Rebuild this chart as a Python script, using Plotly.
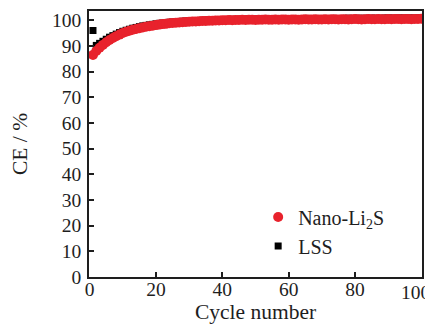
import plotly.graph_objects as go

cycles = list(range(1, 101))

nano_li2s = [
    86.5, 88.0, 89.3, 90.4, 91.4, 92.3, 93.1, 93.8, 94.4, 95.0,
    95.5, 95.9, 96.3, 96.6, 96.9, 97.2, 97.5, 97.7, 97.9, 98.1,
    98.3, 98.5, 98.6, 98.8, 98.9, 99.0, 99.1, 99.2, 99.3, 99.4,
    99.5, 99.5, 99.6, 99.7, 99.7, 99.8, 99.8, 99.9, 99.9, 100.0,
    100.0, 100.1, 100.0, 100.1, 100.1, 100.2, 100.1, 100.2, 100.2, 100.1,
    100.2, 100.2, 100.3, 100.2, 100.2, 100.3, 100.2, 100.3, 100.3, 100.2,
    100.3, 100.3, 100.2, 100.3, 100.4, 100.3, 100.3, 100.4, 100.3, 100.3,
    100.4, 100.3, 100.4, 100.4, 100.3, 100.4, 100.4, 100.3, 100.4, 100.5,
    100.4, 100.3, 100.4, 100.5, 100.4, 100.4, 100.5, 100.4, 100.4, 100.5,
    100.4, 100.5, 100.5, 100.4, 100.5, 100.5, 100.4, 100.5, 100.5, 100.6,
]

lss = [
    96.0, 90.2, 91.0, 91.8, 92.6, 93.4, 94.0, 94.6, 95.2, 95.7,
    96.1, 96.5, 96.9, 97.2, 97.5, 97.8, 98.0, 98.2, 98.4, 98.6,
    98.8, 98.9, 99.0, 99.2, 99.3, 99.4, 99.5, 99.6, 99.7, 99.8,
    99.8, 99.9, 99.9, 100.0, 100.0, 100.1, 100.1, 100.2, 100.2, 100.3,
    100.3, 100.3, 100.4, 100.3, 100.4, 100.4, 100.4, 100.5, 100.4, 100.5,
    100.5, 100.4, 100.5, 100.5, 100.5, 100.6, 100.5, 100.5, 100.6, 100.5,
    100.6, 100.6, 100.5, 100.6, 100.6, 100.7, 100.6, 100.6, 100.7, 100.6,
    100.7, 100.6, 100.7, 100.7, 100.6, 100.7, 100.7, 100.8, 100.7, 100.7,
    100.8, 100.7, 100.8, 100.7, 100.8, 100.8, 100.7, 100.8, 100.8, 100.9,
    100.8, 100.8, 100.9, 100.8, 100.9, 100.9, 100.8, 100.9, 100.9, 101.0,
]

x_ticks = [0, 20, 40, 60, 80, 100]
x_tick_labels = ["0", "20", "40", "60", "80", ""]  # last one drawn as an annotation so it fits
last_x_label = "100"
y_ticks = [0, 10, 20, 30, 40, 50, 60, 70, 80, 90, 100]

font_family = "Liberation Serif, Times New Roman, serif"
red = "#E8222C"
ink = "#1e1e1e"

fig = go.Figure()
fig.add_trace(go.Scatter(
    x=cycles, y=lss, mode="markers", name="LSS",
    marker=dict(symbol="square", size=7, color="black"),
))
fig.add_trace(go.Scatter(
    x=cycles, y=nano_li2s, mode="markers", name="Nano-Li<sub>2</sub>S",
    marker=dict(symbol="circle", size=10, color=red),
))

axis_common = dict(
    showgrid=False, zeroline=False, showline=True, linecolor=ink,
    linewidth=1.5, ticks="inside", ticklen=5, tickwidth=1.5, tickcolor=ink,
    mirror=True, automargin=False, ticklabeloverflow="allow",
    tickfont=dict(family=font_family, size=19.5, color=ink),
)

fig.add_annotation(
    x=x_ticks[-1], xref="x", y=0, yref="paper",
    text=last_x_label, showarrow=False, xanchor="center", yanchor="top",
    xshift=-6, yshift=-3,
    font=dict(family=font_family, size=19.5, color=ink),
)

# the page body adds an 8px offset, so the figure is 8px smaller
fig.update_layout(
    width=425, height=319,
    margin=dict(l=81, r=11, t=3, b=50),
    paper_bgcolor="white", plot_bgcolor="white",
    font=dict(family=font_family, size=20, color=ink),
    showlegend=True,
    legend=dict(
        x=0.508, y=0.171, xanchor="left", yanchor="middle",
        traceorder="reversed", bgcolor="rgba(0,0,0,0)",
        font=dict(family=font_family, size=20, color=ink),
        itemwidth=30, tracegroupgap=0,
    ),
    xaxis=dict(
        range=[-0.2, 100.2], tickvals=x_ticks, ticktext=x_tick_labels,
        ticklabelstandoff=-6,
        title=dict(text="Cycle number", standoff=3,
                   font=dict(family=font_family, size=21.5, color=ink)),
        **axis_common,
    ),
    yaxis=dict(
        range=[0, 103.6], tickvals=y_ticks, ticklabelstandoff=2,
        title=dict(text="CE / %", standoff=24,
                   font=dict(family=font_family, size=21.5, color=ink)),
        **axis_common,
    ),
)

fig.write_html("out.html")
